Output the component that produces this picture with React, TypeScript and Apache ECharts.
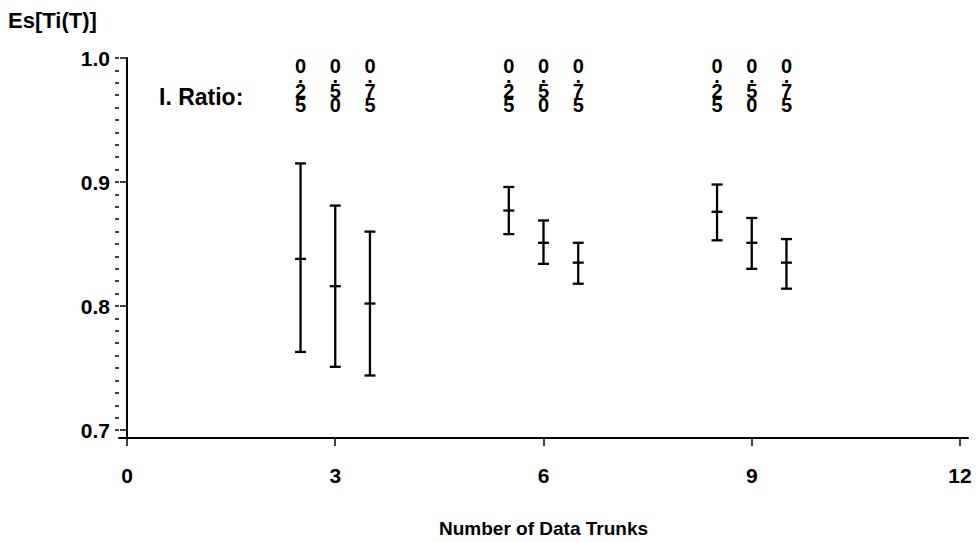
import React, { useEffect, useRef } from "react";
import * as echarts from "echarts";

// Data
const xPositions = [2.5, 3, 3.5, 5.5, 6, 6.5, 8.5, 9, 9.5];
const means = [0.838, 0.816, 0.802, 0.877, 0.851, 0.835, 0.876, 0.851, 0.835];
const lowers = [0.763, 0.751, 0.744, 0.858, 0.834, 0.818, 0.853, 0.830, 0.814];
const uppers = [0.915, 0.881, 0.860, 0.896, 0.869, 0.851, 0.898, 0.871, 0.854];
const ratioLabels = ["0.25", "0.50", "0.75", "0.25", "0.50", "0.75", "0.25", "0.50", "0.75"];

const xTickLabels = [0, 3, 6, 9, 12];
const yMajorTicks = [0.7, 0.8, 0.9, 1.0];
const yMinorTicks: number[] = [];
for (let k = 70; k <= 100; k++) yMinorTicks.push(k / 100);

const FONT = "'Liberation Sans', Arial, Helvetica, sans-serif";

export default function App() {
  const ref = useRef<HTMLDivElement>(null);
  useEffect(() => {
    if (!ref.current) return;
    const chart = echarts.init(ref.current, null, { renderer: "svg" });
    const xMin = -0.1152;
    const xMax = 12.1152;
    const yMin = 0.6936;
    const yMax = 1.0;
    const data = xPositions.map((x, i) => [x, lowers[i], uppers[i], means[i]]);
    chart.setOption({
      animation: false,
      backgroundColor: "#ffffff",
      grid: { left: 119, right: 8, top: 58, bottom: 100, containLabel: false },
      xAxis: {
        type: "value",
        min: xMin,
        max: xMax,
        axisLine: { show: true, lineStyle: { color: "#000", width: 2 } },
        axisTick: {
          show: true,
          inside: false,
          length: 8,
          customValues: xTickLabels,
          lineStyle: { color: "#000", width: 1.5 },
        },
        axisLabel: {
          customValues: xTickLabels,
          margin: 27,
          color: "#000",
          fontFamily: FONT,
          fontWeight: "bold",
          fontSize: 21,
        },
        splitLine: { show: false },
        name: "Number of Data Trunks",
        nameLocation: "middle",
        nameGap: 81,
        nameTextStyle: { color: "#000", fontFamily: FONT, fontWeight: "bold", fontSize: 19 },
      },
      yAxis: [
        {
          type: "value",
          min: yMin,
          max: yMax,
          axisLine: { show: true, lineStyle: { color: "#000", width: 2 } },
          axisTick: {
            show: true,
            length: 7,
            customValues: yMajorTicks,
            lineStyle: { color: "#000", width: 1.5 },
          },
          axisLabel: {
            customValues: yMajorTicks,
            formatter: (v: number) => v.toFixed(1),
            margin: 9,
            color: "#000",
            fontFamily: FONT,
            fontWeight: "bold",
            fontSize: 21,
          },
          splitLine: { show: false },
        },
        {
          type: "value",
          min: yMin,
          max: yMax,
          position: "left",
          axisLine: { show: false },
          axisTick: {
            show: true,
            length: 4,
            customValues: yMinorTicks,
            lineStyle: { color: "#000", width: 1.5 },
          },
          axisLabel: { show: false },
          splitLine: { show: false },
        },
      ],
      graphic: [
        {
          type: "text",
          left: 8,
          top: 9,
          style: { text: "Es[Ti(T)]", fill: "#000", font: `bold 22px ${FONT}` },
        },
        {
          type: "text",
          left: 159,
          top: 85,
          style: { text: "I. Ratio:", fill: "#000", font: `bold 23px ${FONT}` },
        },
      ],
      series: [
        {
          type: "custom",
          data,
          renderItem: (params: any, api: any) => {
            const i = params.dataIndex;
            const x = api.value(0);
            const lo = api.coord([x, api.value(1)]);
            const hi = api.coord([x, api.value(2)]);
            const m = api.coord([x, api.value(3)]);
            const cs = params.coordSys;
            const px = lo[0];
            const cap = 5.5;
            const st = { stroke: "#000", lineWidth: 2.3 };
            const chars = ratioLabels[i].split("");
            const styleNames = ["a", "p", "d", "d"];
            const richText = chars.map((c, k) => `{${styleNames[k]}|${c}}`).join("\n");
            const digit = {
              fontFamily: FONT,
              fontWeight: "bold",
              fontSize: 20,
              lineHeight: 14,
              fill: "#000",
            };
            return {
              type: "group",
              children: [
                { type: "line", shape: { x1: px, y1: lo[1], x2: px, y2: hi[1] }, style: st },
                { type: "line", shape: { x1: px - cap, y1: lo[1], x2: px + cap, y2: lo[1] }, style: st },
                { type: "line", shape: { x1: px - cap, y1: hi[1], x2: px + cap, y2: hi[1] }, style: st },
                { type: "line", shape: { x1: px - cap, y1: m[1], x2: px + cap, y2: m[1] }, style: st },
                {
                  type: "text",
                  x: px,
                  y: cs.y + 7.6,
                  style: {
                    text: richText,
                    align: "center",
                    verticalAlign: "top",
                    fill: "#000",
                    fontFamily: FONT,
                    fontWeight: "bold",
                    fontSize: 20,
                    rich: {
                      a: { ...digit, lineHeight: 1.4 },
                      p: { ...digit, lineHeight: 17.2 },
                      d: digit,
                    },
                  },
                },
              ],
            };
          },
        },
      ],
    });
    return () => chart.dispose();
  }, []);
  return (
    <div
      ref={ref}
      style={{ position: "fixed", left: 0, top: 0, width: 976, height: 543, background: "#fff" }}
    />
  );
}
